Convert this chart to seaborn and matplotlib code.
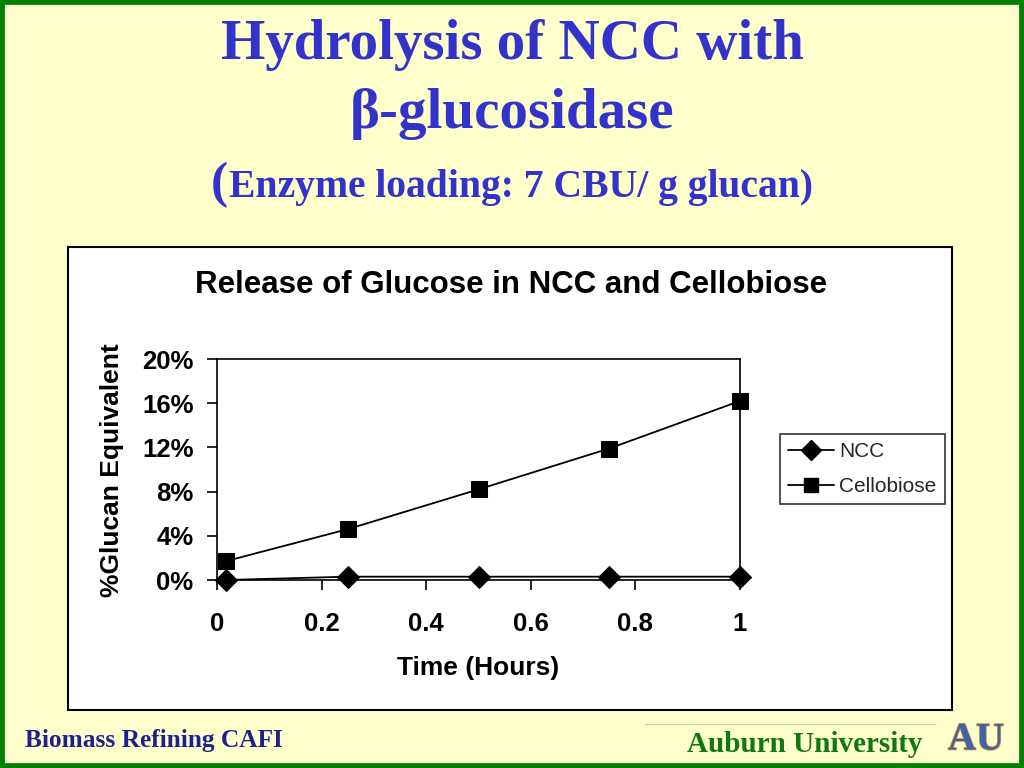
import pandas as pd
import matplotlib.pyplot as plt
import seaborn as sns
from matplotlib.patches import Rectangle
from matplotlib.lines import Line2D
import matplotlib.patheffects as pe

# data
time_hours = [1/60, 0.25, 0.5, 0.75, 1.0]
ncc = [0.0, 0.3, 0.3, 0.3, 0.3]
cellobiose = [1.7, 4.6, 8.2, 11.9, 16.2]
series_names = ['NCC', 'Cellobiose']
y_ticks = [0, 4, 8, 12, 16, 20]
x_ticks = [0, 0.2, 0.4, 0.6, 0.8, 1]

df = pd.DataFrame({
    'Time': time_hours * 2,
    'Value': ncc + cellobiose,
    'Series': [series_names[0]] * len(ncc) + [series_names[1]] * len(cellobiose),
})

sns.set_theme(style='white')
plt.rcParams['font.family'] = ['Liberation Sans', 'DejaVu Sans']

W, H = 1024, 768
fig = plt.figure(figsize=(W / 100, H / 100), dpi=100)
fig.patch.set_facecolor('#FFFFCC')

def fx(px):
    return px / W

def fy(py):
    return 1 - py / H

# green slide border
fig.patches.append(Rectangle((0, 0), 1, 1, transform=fig.transFigure, fill=False,
                             edgecolor='#008000', linewidth=7, zorder=-2))
# white chart box
fig.patches.append(Rectangle((fx(68), fy(710)), fx(884), 463 / H, transform=fig.transFigure,
                             facecolor='white', edgecolor='black', linewidth=1.5, zorder=-1))

serif = ['Liberation Serif', 'DejaVu Serif']
blue = '#3333CC'
fig.text(0.5, fy(45), 'Hydrolysis of NCC with', ha='center', va='center',
         family=serif, fontweight='bold', fontsize=41, color=blue)
fig.text(0.5, fy(114), 'β-glucosidase', ha='center', va='center',
         family=serif, fontweight='bold', fontsize=41, color=blue)
fig.text(fx(211), fy(185), '(', ha='left', va='center',
         family=serif, fontweight='bold', fontsize=37, color=blue)
fig.text(fx(229), fy(188), 'Enzyme loading: 7 CBU/ g glucan)', ha='left', va='center',
         family=serif, fontweight='bold', fontsize=28.5, color=blue)

# footer
fig.text(fx(25), fy(740), 'Biomass Refining CAFI', ha='left', va='center',
         family=serif, fontweight='bold', fontsize=18.3, color='#1F1F8F')
fig.text(fx(922), fy(745), 'Auburn University', ha='right', va='center',
         family=serif, fontweight='bold', fontsize=21, color='#117711')
fig.add_artist(Line2D([fx(645), fx(935)], [fy(724), fy(724)], transform=fig.transFigure,
                      color='#C8D8A0', linewidth=1))
fig.text(fx(976), fy(740), 'AU', ha='center', va='center', family=serif,
         fontweight='bold', fontsize=28, color='#3A64A8',
         path_effects=[pe.withStroke(linewidth=1.2, foreground='#D89040')])

ax = fig.add_axes([fx(217), fy(580), 523 / W, 221 / H])
ax.set_zorder(3)
ax.set_facecolor('white')
sns.lineplot(data=df, x='Time', y='Value', hue='Series', style='Series',
             markers={'NCC': 'D', 'Cellobiose': 's'}, dashes=False,
             palette={'NCC': 'black', 'Cellobiose': 'black'},
             markersize=11, linewidth=1.3, markeredgecolor='black',
             ax=ax, legend=False, clip_on=False)

ax.set_xlim(0, 1)
ax.set_ylim(0, 20)
ax.set_xticks(x_ticks)
ax.set_xticklabels(['0', '0.2', '0.4', '0.6', '0.8', '1'], fontsize=18.5, fontweight='bold')
ax.set_yticks(y_ticks)
ax.set_yticklabels([f'{v}%' for v in y_ticks], fontsize=18.5, fontweight='bold')
ax.tick_params(axis='both', direction='out', length=7, width=1.2, colors='black',
               bottom=True, left=True)
ax.tick_params(axis='x', pad=16)
ax.tick_params(axis='y', pad=10)
for s in ax.spines.values():
    s.set_color('black')
    s.set_linewidth(1.2)
for lab in ax.get_xticklabels() + ax.get_yticklabels():
    lab.set_color('black')
ax.set_xlabel('')
ax.set_ylabel('')
fig.text(fx(478), fy(668), 'Time (Hours)', ha='center', va='center',
         fontsize=19, fontweight='bold', color='black')
fig.text(fx(112), fy(470), '%Glucan Equivalent', ha='center', va='center', rotation=90,
         fontsize=19, fontweight='bold', color='black')
fig.text(fx(511), fy(285), 'Release of Glucose in NCC and Cellobiose', ha='center', va='center',
         fontsize=22.5, fontweight='bold', color='black')

handles = [Line2D([], [], color='black', marker='D', markersize=10, linewidth=1.3, label='NCC'),
           Line2D([], [], color='black', marker='s', markersize=10, linewidth=1.3, label='Cellobiose')]
leg = fig.legend(handles=handles, loc='upper left', bbox_to_anchor=(fx(780), fy(434)),
                 bbox_transform=fig.transFigure, frameon=True, fancybox=False,
                 edgecolor='black', fontsize=15, handlelength=2.2, borderpad=0.4,
                 labelspacing=0.75, handletextpad=0.25, borderaxespad=0)
leg.get_frame().set_linewidth(1.2)
leg.set_zorder(4)

fig.savefig('out.png', dpi=100, facecolor=fig.get_facecolor())
